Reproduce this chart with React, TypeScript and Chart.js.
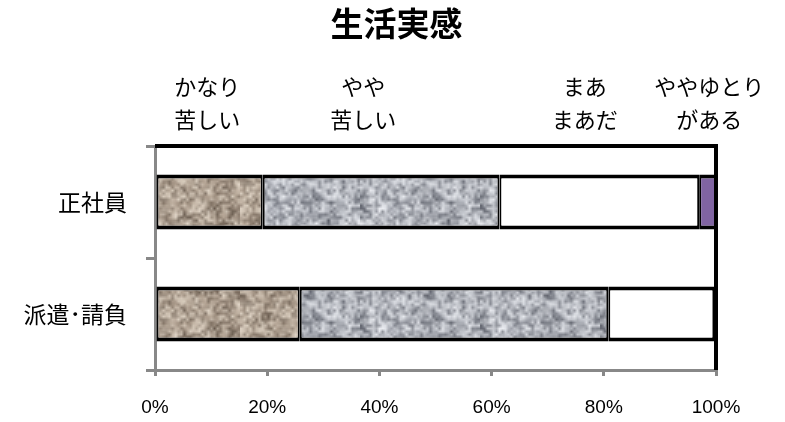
import React, { useEffect, useRef } from "react";
import { Chart, registerables } from "chart.js";
Chart.register(...registerables);

const chartTitle = "生活実感";
const categories = ["正社員", "派遣･請負"];
const seriesNames = ["かなり苦しい", "やや苦しい", "まあまあだ", "ややゆとりがある"];
const headerLines = [
  ["かなり", "苦しい"],
  ["やや", "苦しい"],
  ["まあ", "まあだ"],
  ["ややゆとり", "がある"],
];
const kanariKurushii = [19.2, 25.8];
const yayaKurushii = [42.2, 55.0];
const maamaada = [35.6, 18.9];
const yayaYutori = [3.0, 0.3];
const xTickLabels = ["0%", "20%", "40%", "60%", "80%", "100%"];

// header label anchor positions on the value axis (percent)
const HEADER_AT = [9.3, 37.1, 76.6, 98.8];

function mulberry32(a: number) {
  return function () {
    a |= 0;
    a = (a + 0x6d2b79f5) | 0;
    let t = Math.imul(a ^ (a >>> 15), 1 | a);
    t = (t + Math.imul(t ^ (t >>> 7), 61 | t)) ^ t;
    return ((t ^ (t >>> 14)) >>> 0) / 4294967296;
  };
}

type RGB = [number, number, number];
function mix(a: RGB, b: RGB, t: number): RGB {
  return [a[0] + (b[0] - a[0]) * t, a[1] + (b[1] - a[1]) * t, a[2] + (b[2] - a[2]) * t];
}

function makeTexture(target: CanvasRenderingContext2D, base: RGB, dark: RGB, light: RGB, seed: number) {
  const size = 120;
  const c = document.createElement("canvas");
  c.width = size;
  c.height = size;
  const ctx = c.getContext("2d")!;
  const rnd = mulberry32(seed);
  ctx.fillStyle = `rgb(${base.join(",")})`;
  ctx.fillRect(0, 0, size, size);
  const layer = (n: number, alpha: number) => {
    const s = document.createElement("canvas");
    s.width = n;
    s.height = n;
    const sc = s.getContext("2d")!;
    const img = sc.createImageData(n, n);
    for (let i = 0; i < n * n; i++) {
      const r = rnd();
      const col = r < 0.5 ? mix(dark, base, r * 2) : mix(base, light, (r - 0.5) * 2);
      img.data[i * 4] = col[0];
      img.data[i * 4 + 1] = col[1];
      img.data[i * 4 + 2] = col[2];
      img.data[i * 4 + 3] = 255;
    }
    sc.putImageData(img, 0, 0);
    ctx.globalAlpha = alpha;
    ctx.imageSmoothingEnabled = true;
    ctx.drawImage(s, 0, 0, size, size);
  };
  layer(18, 1);
  layer(40, 0.55);
  ctx.globalAlpha = 1;
  return target.createPattern(c, "repeat")!;
}

const framePlugin = {
  id: "frame",
  beforeDatasetsDraw(chart: any) {
    const { ctx, chartArea } = chart;
    ctx.save();
    ctx.strokeStyle = "#000";
    ctx.lineWidth = 4;
    ctx.beginPath();
    ctx.moveTo(chartArea.left, chartArea.top);
    ctx.lineTo(chartArea.right, chartArea.top);
    ctx.lineTo(chartArea.right, chartArea.bottom);
    ctx.stroke();
    ctx.restore();
  },
  afterDraw(chart: any) {
    const { ctx, chartArea } = chart;
    const xs = chart.scales.x;
    ctx.save();
    ctx.fillStyle = "#000";
    ctx.textAlign = "center";
    ctx.textBaseline = "middle";
    ctx.font = "bold 33px 'Noto Sans CJK JP'";
    ctx.fillText(chartTitle, chart.width / 2 + 4, 23);
    ctx.font = "22px 'Noto Sans CJK JP'";
    headerLines.forEach((lines, i) => {
      const x = xs.getPixelForValue(HEADER_AT[i]);
      lines.forEach((t, j) => {
        ctx.fillText(t, x, chartArea.top - 59 + j * 33);
      });
    });
    ctx.restore();
  },
};

export default function App() {
  const ref = useRef<HTMLCanvasElement | null>(null);
  useEffect(() => {
    document.body.style.margin = "0";
    const canvas = ref.current!;
    const c2d = canvas.getContext("2d")!;
    const brown = makeTexture(c2d, [178, 162, 146], [95, 82, 70], [232, 222, 208], 7);
    const gray = makeTexture(c2d, [188, 191, 198], [85, 88, 98], [242, 244, 248], 19);
    const common = {
      borderColor: "#000",
      borderWidth: { top: 4, bottom: 4, left: 2, right: 2 },
      borderSkipped: false as const,
      categoryPercentage: 1,
      barPercentage: 0.49,
    };
    const chart = new Chart(canvas, {
      type: "bar",
      data: {
        labels: categories,
        datasets: [
          { label: seriesNames[0], data: kanariKurushii, backgroundColor: brown, ...common },
          { label: seriesNames[1], data: yayaKurushii, backgroundColor: gray, ...common },
          { label: seriesNames[2], data: maamaada, backgroundColor: "#ffffff", ...common },
          { label: seriesNames[3], data: yayaYutori, backgroundColor: "#8064a2", ...common },
        ],
      },
      options: {
        indexAxis: "y",
        responsive: false,
        animation: false,
        devicePixelRatio: 1,
        layout: { padding: { top: 146, right: 69, left: 0, bottom: 0 } },
        plugins: { legend: { display: false }, tooltip: { enabled: false }, title: { display: false } },
        scales: {
          x: {
            stacked: true,
            min: 0,
            max: 100,
            ticks: {
              stepSize: 20,
              callback: (_v: any, i: number) => xTickLabels[i],
              color: "#000",
              font: { family: "'Liberation Sans', Arial", size: 19 },
              padding: 20,
              maxRotation: 0,
            },
            grid: { drawOnChartArea: false, drawTicks: true, tickLength: 6, color: "#888", lineWidth: 3 },
            border: { display: true, color: "#888", width: 3 },
            afterFit: (s: any) => {
              s.height = 52;
            },
          },
          y: {
            stacked: true,
            ticks: { color: "#000", font: { family: "'Noto Sans CJK JP'", size: 23 }, padding: 19 },
            grid: { offset: true, drawOnChartArea: false, tickLength: 9, color: "#888", lineWidth: 3 },
            border: { display: true, color: "#888", width: 3 },
            afterFit: (s: any) => {
              s.width = 155;
            },
          },
        },
      } as any,
      plugins: [framePlugin],
    });
    return () => chart.destroy();
  }, []);
  return <canvas ref={ref} width={785} height={422} style={{ display: "block" }} />;
}
